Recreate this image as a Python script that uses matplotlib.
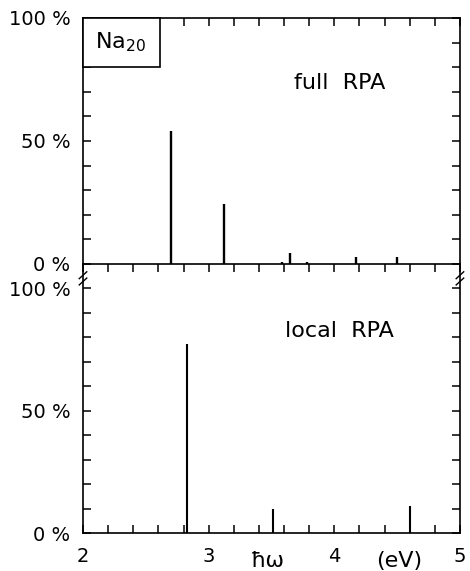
import matplotlib.pyplot as plt
from matplotlib.patches import Rectangle
from matplotlib.ticker import MultipleLocator

# transition energies (eV) and strengths (%)
full_energy = [2.70, 3.12, 3.58, 3.65, 3.78, 4.17, 4.50]
full_strength = [54, 24.5, 1, 4.5, 1, 3, 3]
local_energy = [2.83, 3.51, 4.60]
local_strength = [77, 10, 11]

xticks = [2, 3, 4, 5]
yticks = [0, 50, 100]
ytick_labels = ["0 %", "50 %", "100 %"]

fig = plt.figure(figsize=(4.7, 5.71), dpi=100)
ax1 = fig.add_axes([0.1766, 0.5377, 0.802, 0.4308])
ax2 = fig.add_axes([0.1766, 0.0665, 0.802, 0.4711])
ax2.patch.set_visible(False)

fs = 14
fs_big = 16

for ax in (ax1, ax2):
    ax.set_xlim(2, 5)
    ax.set_xticks(xticks)
    ax.xaxis.set_minor_locator(MultipleLocator(0.2))
    ax.yaxis.set_minor_locator(MultipleLocator(10))
    ax.set_yticks(yticks)
    ax.set_yticklabels(ytick_labels, fontsize=fs)
    for s in ax.spines.values():
        s.set_linewidth(1.2)
    ax.tick_params(which='both', length=6, width=1.1, direction='in',
                   right=True, top=True, labelsize=fs, pad=9)

# upper panel
ax1.set_ylim(0, 100)
ax1.tick_params(axis='x', bottom=False, labelbottom=False)
ax1.tick_params(axis='x', which='minor', bottom=False)
ax1.vlines(full_energy, 0, full_strength, color='black', lw=1.7)
ax1.text(4.04, 73.6, "full  RPA", ha='center', va='center', fontsize=fs_big)
ax1.add_patch(Rectangle((0, 0.80), 0.204, 0.20, transform=ax1.transAxes,
                        facecolor='white', edgecolor='black', lw=1.2,
                        clip_on=False, zorder=5))
ax1.text(0.10, 0.90, "Na$_{20}$", transform=ax1.transAxes, ha='center',
         va='center', fontsize=fs_big, zorder=6)

# lower panel: its (hidden) top edge sits on the upper panel's baseline,
# so its inward top ticks hang below that baseline
ax2.set_ylim(0, 109.8)
ax2.set_xticklabels([str(t) for t in xticks], fontsize=fs)
ax2.tick_params(axis='x', pad=10)
ax2.spines['top'].set_visible(False)
ax2.vlines(local_energy, 0, local_strength, color='black', lw=1.5)
ax2.text(4.04, 82.4, "local  RPA", ha='center', va='center', fontsize=fs_big)
ax2.text(3.47, -11.4, "ħω", ha='center', va='center', fontsize=fs_big)
ax2.text(4.52, -11.4, "(eV)", ha='center', va='center', fontsize=fs_big)

# axis break marks
for x0 in (0.1766, 0.1766 + 0.802):
    for dy in (0.0, 0.011):
        y0 = 0.518 - dy
        fig.add_artist(plt.Line2D([x0 - 0.008, x0 + 0.008], [y0 - 0.006, y0 + 0.006],
                                  color='black', lw=1.0, transform=fig.transFigure))

fig.savefig("out.png", dpi=100)
